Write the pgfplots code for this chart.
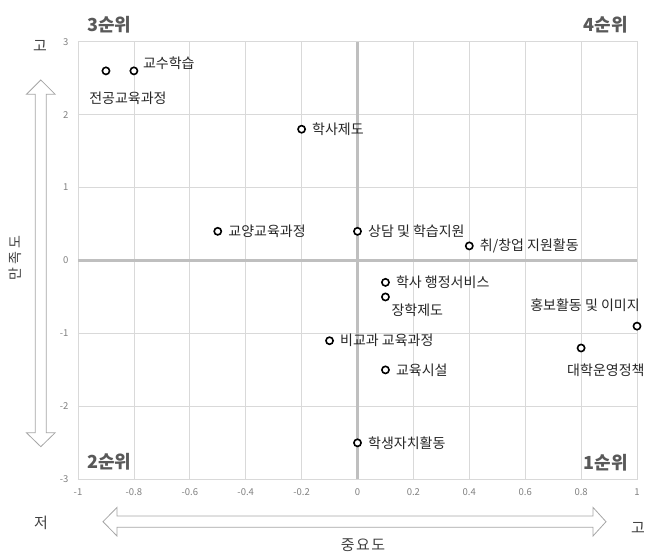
\documentclass[border=0pt]{standalone}
\usepackage{fontspec}
\setmainfont{Noto Sans CJK KR}
\usepackage{pgfplots}
\pgfplotsset{compat=1.18}
\definecolor{gridc}{HTML}{D9D9D9}
\definecolor{zeroc}{HTML}{BFBFBF}
\definecolor{quad}{HTML}{595959}
\definecolor{side}{HTML}{404040}
\definecolor{tickc}{HTML}{808080}
\definecolor{arrc}{HTML}{A6A6A6}
\definecolor{lblc}{HTML}{262626}
\begin{document}
\begin{tikzpicture}[x=1pt,y=1pt]
\path[use as bounding box] (-78,-76.7) rectangle (569,479.3);
% arrows
\draw[arrc, fill=white, line width=0.8pt] (-37.2,399.3) -- (-22.8,385) -- (-31.7,385) -- (-31.7,46.6) -- (-22.8,46.6) -- (-37.2,32.6) -- (-51.6,46.6) -- (-42.7,46.6) -- (-42.7,385) -- (-51.6,385) -- cycle;
\draw[arrc, fill=white, line width=0.8pt] (25,-42.4) -- (39,-28.1) -- (39,-36.8) -- (515,-36.8) -- (515,-28.1) -- (528,-42.4) -- (515,-56.7) -- (515,-48) -- (39,-48) -- (39,-56.7) -- cycle;
\begin{axis}[
  at={(0,0)}, anchor=south west,
  scale only axis, width=559pt, height=437.6pt,
  xmin=-1, xmax=1, ymin=-3, ymax=3,
  xtick={-1,-0.8,-0.6,-0.4,-0.2,0,0.2,0.4,0.6,0.8,1},
  ytick={-3,-2,-1,0,1,2,3},
  grid=major, major grid style={gridc, line width=0.8pt},
  axis line style={gridc, line width=0.8pt},
  tick style={draw=none},
  ticklabel style={font=\fontsize{9.5}{11}\selectfont, text=tickc},
  /pgf/number format/assume math mode=true,
  xticklabel style={yshift=-6pt},
  yticklabel style={xshift=-6pt},
  clip=false,
  every node near coord/.append style={font=\fontsize{14}{16}\selectfont, text=lblc},
]
\addplot[zeroc, line width=2.5pt, forget plot] coordinates {(0,-3) (0,3)};
\addplot[zeroc, line width=2.5pt, forget plot] coordinates {(-1,0) (1,0)};
% group: labels to the right
\addplot[only marks, mark=*, mark size=3.6pt, mark options={fill=white, draw=black, line width=1.6pt},
  nodes near coords, point meta=explicit symbolic,
  nodes near coords align={anchor=west},
  every node near coord/.append style={xshift=6.5pt}]
  coordinates {
  (-0.2,1.8) [학사제도]
  (-0.5,0.4) [교양교육과정]
  (0,0.4) [상담 및 학습지원]
  (0.4,0.2) [취/창업 지원활동]
  (0.1,-0.3) [학사 행정서비스]
  (-0.1,-1.1) [비교과 교육과정]
  (0.1,-1.5) [교육시설]
  (0,-2.5) [학생자치활동]
  };
\addplot[only marks, mark=*, mark size=3.6pt, mark options={fill=white, draw=black, line width=1.6pt},
  nodes near coords, point meta=explicit symbolic,
  nodes near coords align={anchor=west},
  every node near coord/.append style={xshift=5pt, yshift=8pt}]
  coordinates {(-0.8,2.6) [교수학습]};
\addplot[only marks, mark=*, mark size=3.6pt, mark options={fill=white, draw=black, line width=1.6pt},
  nodes near coords, point meta=explicit symbolic,
  nodes near coords align={anchor=center},
  every node near coord/.append style={xshift=22pt, yshift=-27pt}]
  coordinates {(-0.9,2.6) [전공교육과정]};
\addplot[only marks, mark=*, mark size=3.6pt, mark options={fill=white, draw=black, line width=1.6pt},
  nodes near coords, point meta=explicit symbolic,
  nodes near coords align={anchor=west},
  every node near coord/.append style={xshift=2pt, yshift=-13pt}]
  coordinates {(0.1,-0.5) [장학제도]};
\addplot[only marks, mark=*, mark size=3.6pt, mark options={fill=white, draw=black, line width=1.6pt},
  nodes near coords, point meta=explicit symbolic,
  nodes near coords align={anchor=center},
  every node near coord/.append style={xshift=-52pt, yshift=21pt}]
  coordinates {(1.0,-0.9) [홍보활동 및 이미지]};
\addplot[only marks, mark=*, mark size=3.6pt, mark options={fill=white, draw=black, line width=1.6pt},
  nodes near coords, point meta=explicit symbolic,
  nodes near coords align={anchor=west},
  every node near coord/.append style={xshift=-18pt, yshift=-22pt}]
  coordinates {(0.8,-1.2) [대학운영정책]};
\end{axis}
% quadrant labels
\node[text=quad, font=\fontsize{18}{20}\selectfont\bfseries, anchor=west, inner sep=0pt] at (9,454.3) {3순위};
\node[text=quad, font=\fontsize{18}{20}\selectfont\bfseries, anchor=east, inner sep=0pt] at (550,454.3) {4순위};
\node[text=quad, font=\fontsize{18}{20}\selectfont\bfseries, anchor=west, inner sep=0pt] at (9,17.3) {2순위};
\node[text=quad, font=\fontsize{18}{20}\selectfont\bfseries, anchor=east, inner sep=0pt] at (550,16.3) {1순위};
% axis side labels
\node[text=side, font=\fontsize{15}{17}\selectfont] at (-38,433.3) {고};
\node[text=side, font=\fontsize{14}{16}\selectfont, rotate=90] at (-63,221.3) {만\hspace{3pt}족\hspace{3pt}도};
\node[text=side, font=\fontsize{15}{17}\selectfont] at (-37,-43.7) {저};
\node[text=side, font=\fontsize{15}{17}\selectfont] at (560,-48.7) {고};
\node[text=side, font=\fontsize{15}{17}\selectfont] at (285,-65.7) {중\hspace{1.5pt}요\hspace{1.5pt}도};
\end{tikzpicture}
\end{document}
